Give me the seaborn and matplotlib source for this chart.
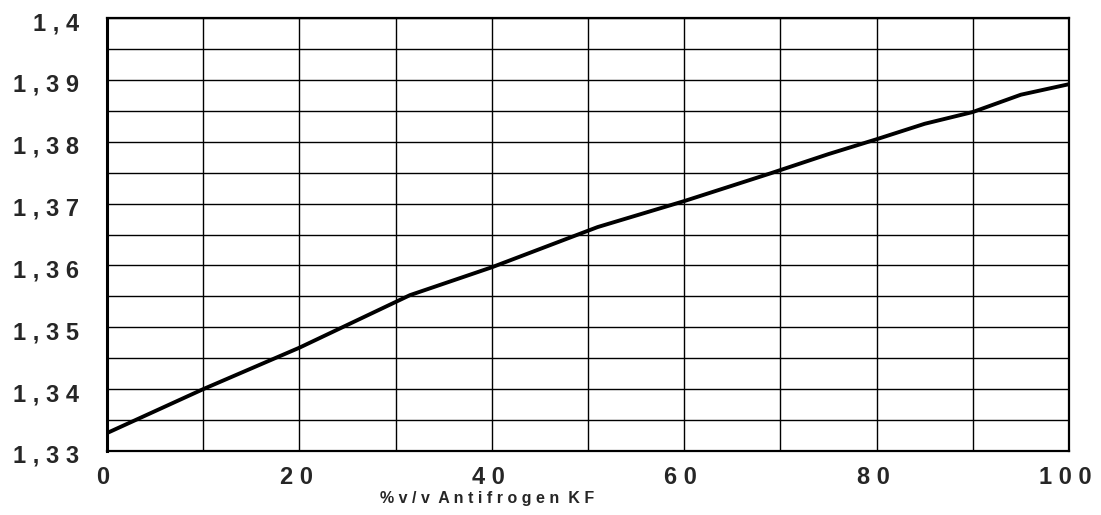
import matplotlib
matplotlib.use("Agg")
import matplotlib.pyplot as plt
import matplotlib.transforms as mtransforms
import seaborn as sns
import pandas as pd

# data
concentration = [0, 10, 20, 31.5, 40, 51, 60, 69, 75, 80, 85, 90, 95, 100]
refractive_index = [1.3329, 1.3400, 1.3467, 1.3552, 1.3597, 1.3662, 1.3704,
                    1.3749, 1.3780, 1.3804, 1.3829, 1.3848, 1.3876, 1.3893]
x_ticks = [0, 20, 40, 60, 80, 100]
x_tick_labels = ["0 ", "2 0 ", "4 0 ", "6 0 ", "8 0 ", "1 0 0 "]
y_ticks = [1.33, 1.34, 1.35, 1.36, 1.37, 1.38, 1.39, 1.40]
y_tick_labels = ["1 , 3 3", "1 , 3 4", "1 , 3 5", "1 , 3 6", "1 , 3 7", "1 , 3 8", "1 , 3 9", "1 , 4"]
x_label = "% v / v  A n t i f r o g e n  K F"

sns.set_style("white")
plt.rcParams['font.family'] = ['Liberation Sans', 'DejaVu Sans']

df = pd.DataFrame({"x": concentration, "y": refractive_index})

fig = plt.figure(figsize=(11.01, 5.15), dpi=100)
ax = fig.add_axes([107/1101, 1 - 451/515, (1069-107)/1101, (451-18)/515])

sns.lineplot(data=df, x="x", y="y", ax=ax, color="black", linewidth=2.8, zorder=5)

ax.set_xlim(0, 100)
ax.set_ylim(1.33, 1.40)
ax.grid(True, which="major", color="black", linewidth=1.0)

ax.set_xticks([i * 10 for i in range(11)])
ax.set_xticklabels([x_tick_labels[x_ticks.index(t)] if t in x_ticks else "" for t in range(0, 101, 10)])
yt = [1.33 + 0.005 * i for i in range(15)]
ax.set_yticks(yt)
ylab = []
for v in yt:
    match = [lab for t, lab in zip(y_ticks, y_tick_labels) if abs(t - v) < 1e-6]
    ylab.append(match[0] if match else "")
ax.set_yticklabels(ylab)

ax.tick_params(axis="both", length=0, labelsize=17)
ax.tick_params(axis="x", pad=11)
ax.tick_params(axis="y", pad=20)
offset = mtransforms.ScaledTranslation(0, -3 / 100, fig.dpi_scale_trans)
for lab in ax.get_xticklabels() + ax.get_yticklabels():
    lab.set_fontweight("bold")
for lab in ax.get_yticklabels():
    lab.set_transform(lab.get_transform() + offset)

ax.set_xlabel(x_label, fontsize=11.5, fontweight="bold")
ax.set_ylabel("")
ax.xaxis.set_label_coords((487 - 107) / 962, -0.093)

for side in ["top", "right", "bottom"]:
    ax.spines[side].set_linewidth(1.6)
    ax.spines[side].set_color("black")
ax.spines["left"].set_linewidth(2.2)
ax.spines["left"].set_color("black")

fig.savefig("out.png", dpi=100, facecolor="white")
